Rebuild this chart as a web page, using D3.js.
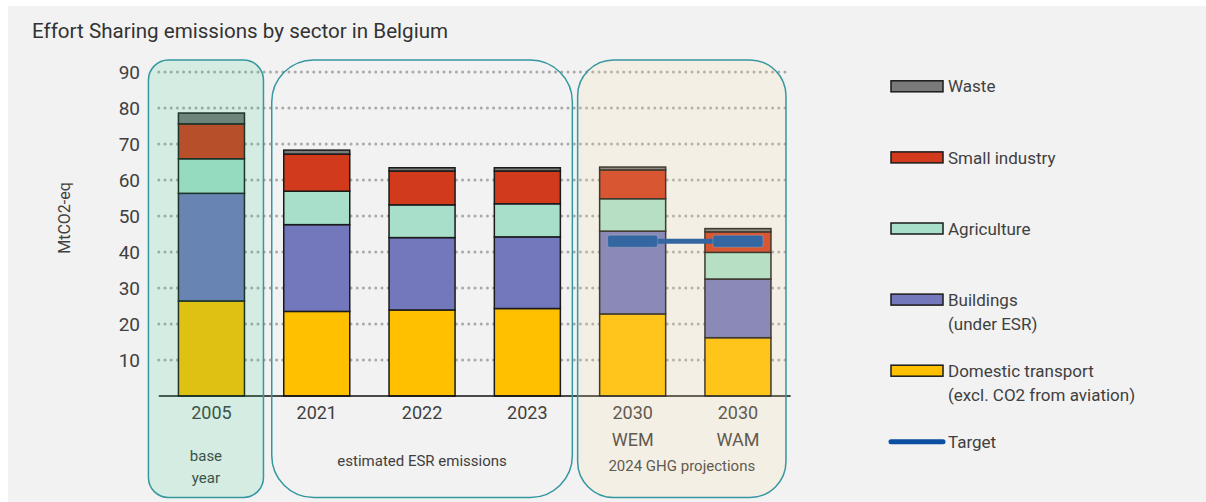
<!DOCTYPE html>
<html>
<head>
<meta charset="utf-8">
<script src="https://cdn.jsdelivr.net/npm/d3@7"></script>
<style>
  body { margin: 0; background: #fff; }
  svg { display: block; font-family: Roboto, "DejaVu Sans", sans-serif; }
</style>
</head>
<body>
<svg id="chart" width="1206" height="502"></svg>
<script>
// values (MtCO2-eq)
const categories = ["2005", "2021", "2022", "2023", "2030 WEM", "2030 WAM"];
const transport = [26.4, 23.5, 23.9, 24.3, 22.8, 16.2];
const buildings = [29.9, 24.1, 20.1, 19.9, 23.0, 16.3];
const agriculture = [9.6, 9.3, 9.1, 9.2, 9.0, 7.4];
const smallIndustry = [9.7, 10.3, 9.4, 9.1, 8.0, 5.7];
const waste = [3.0, 1.1, 0.9, 0.9, 0.8, 0.9];
const target = [null, null, null, null, 43.0, 43.0];
const yTicks = [10, 20, 30, 40, 50, 60, 70, 80, 90];

const seriesNames = ["Domestic transport", "Buildings", "Agriculture", "Small industry", "Waste"];
const groups = [
  {label: ["base", "year"], from: "2005", to: "2005"},
  {label: ["estimated ESR emissions"], from: "2021", to: "2023"},
  {label: ["2024 GHG projections"], from: "2030 WEM", to: "2030 WAM"}
];
const legendItems = [
  {key: "Waste", lines: ["Waste"]},
  {key: "Small industry", lines: ["Small industry"]},
  {key: "Agriculture", lines: ["Agriculture"]},
  {key: "Buildings", lines: ["Buildings", "(under ESR)"]},
  {key: "Domestic transport", lines: ["Domestic transport", "(excl. CO2 from aviation)"]},
  {key: "Target", lines: ["Target"]}
];

const table = categories.map((c, i) => ({
  cat: c,
  "Domestic transport": transport[i],
  "Buildings": buildings[i],
  "Agriculture": agriculture[i],
  "Small industry": smallIndustry[i],
  "Waste": waste[i]
}));

const color = d3.scaleOrdinal(seriesNames, ["#ffc000", "#7378bd", "#a8dfca", "#d13b1c", "#7a7a7a"]);
const textColor = "#404040";

const svg = d3.select("#chart");

svg.append("rect")
    .attr("x", 8).attr("y", 6)
    .attr("width", 1198).attr("height", 496)
    .attr("fill", "#f2f2f2");

const x = d3.scaleBand(categories, [158.8, 790.6]).paddingInner(0.373).paddingOuter(0.1865);
const y = d3.scaleLinear([0, 90], [396, 72]);
const cx = c => x(c) + x.bandwidth() / 2;

// title
svg.append("text")
    .attr("x", 32).attr("y", 38)
    .attr("font-size", 20.6)
    .attr("fill", "#333")
    .text("Effort Sharing emissions by sector in Belgium");

// dotted grid
svg.append("g")
  .selectAll("line")
  .data(yTicks)
  .join("line")
    .attr("x1", x.range()[0]).attr("x2", x.range()[1])
    .attr("y1", d => y(d)).attr("y2", d => y(d))
    .attr("stroke", "#a9a9a9")
    .attr("stroke-width", 3)
    .attr("stroke-linecap", "round")
    .attr("stroke-dasharray", "0,6.2");

// y tick labels
svg.append("g")
    .attr("font-size", 19)
    .attr("fill", textColor)
    .attr("text-anchor", "end")
  .selectAll("text")
  .data(yTicks)
  .join("text")
    .attr("x", 140)
    .attr("y", d => y(d))
    .attr("dy", "0.36em")
    .text(d => d);

svg.append("text")
    .attr("transform", "translate(70,218) rotate(-90)")
    .attr("text-anchor", "middle")
    .attr("font-size", 16)
    .attr("fill", textColor)
    .text("MtCO2-eq");

// stacked bars
const stacked = d3.stack().keys(seriesNames)(table);
svg.append("g")
  .selectAll("g")
  .data(stacked)
  .join("g")
    .attr("fill", d => color(d.key))
  .selectAll("rect")
  .data(d => d)
  .join("rect")
    .attr("x", d => x(d.data.cat))
    .attr("y", d => y(d[1]))
    .attr("width", x.bandwidth())
    .attr("height", d => y(d[0]) - y(d[1]))
    .attr("stroke", "#1a1a1a")
    .attr("stroke-width", 1.5);

// target
const tgt = categories.map((c, i) => ({cat: c, v: target[i]})).filter(d => d.v != null);
svg.append("path")
    .attr("d", d3.line().x(d => cx(d.cat)).y(d => y(d.v))(tgt))
    .attr("fill", "none")
    .attr("stroke", "#0b4ea2")
    .attr("stroke-width", 5);
svg.append("g")
  .selectAll("rect")
  .data(tgt)
  .join("rect")
    .attr("x", d => cx(d.cat) - 25)
    .attr("y", d => y(d.v) - 6)
    .attr("width", 50).attr("height", 12)
    .attr("rx", 2)
    .attr("fill", "#0b4ea2")
    .attr("stroke", "#d8e0ea")
    .attr("stroke-opacity", 0.25);

// baseline
svg.append("line")
    .attr("x1", x.range()[0]).attr("x2", x.range()[1])
    .attr("y1", y(0)).attr("y2", y(0))
    .attr("stroke", "#111")
    .attr("stroke-width", 1.5);

// category labels
svg.append("g")
    .attr("font-size", 18)
    .attr("fill", textColor)
    .attr("text-anchor", "middle")
  .selectAll("text")
  .data(categories)
  .join("text")
    .attr("x", d => cx(d))
    .attr("y", 413)
    .selectAll("tspan")
    .data(d => d.split(" "))
    .join("tspan")
      .attr("x", function() { return this.parentNode.getAttribute("x"); })
      .attr("dy", (d, i) => i === 0 ? "0.36em" : "1.45em")
      .text(d => d);

// group boxes
const boxPad = [[30, 19, 20, "#2ac77f", 0.15], [12, 12, 42, null, 0], [22, 15, 36, "#ffe0a0", 0.17]];
const boxes = groups.map((g, i) => ({
  ...g,
  x0: x(g.from) - boxPad[i][0],
  x1: x(g.to) + x.bandwidth() + boxPad[i][1],
  r: boxPad[i][2], tint: boxPad[i][3], alpha: boxPad[i][4]
}));

const labelY = [456, 461, 466];
boxes.forEach((b, i) => {
  svg.append("text")
      .attr("x", (b.x0 + b.x1) / 2)
      .attr("y", b.label.length > 1 ? labelY[0] : labelY[i])
      .attr("font-size", 15)
      .attr("fill", textColor)
      .attr("text-anchor", "middle")
    .selectAll("tspan")
    .data(b.label)
    .join("tspan")
      .attr("x", (b.x0 + b.x1) / 2)
      .attr("dy", (d, j) => j === 0 ? "0.36em" : "1.45em")
      .text(d => d);
});

svg.append("g")
  .selectAll("rect")
  .data(boxes)
  .join("rect")
    .attr("x", d => d.x0).attr("y", 60)
    .attr("width", d => d.x1 - d.x0).attr("height", 437.5)
    .attr("rx", d => d.r)
    .attr("fill", d => d.tint || "none")
    .attr("fill-opacity", d => d.alpha)
    .attr("stroke", "#3597a0")
    .attr("stroke-width", 1.5);

// legend
const legend = svg.append("g")
    .attr("font-size", 17)
    .attr("fill", textColor);
const item = legend.selectAll("g")
  .data(legendItems)
  .join("g")
    .attr("transform", (d, i) => `translate(891,${86.3 + i * 71.1})`);
item.filter(d => d.key !== "Target")
  .append("rect")
    .attr("x", 0).attr("y", -5.5)
    .attr("width", 52).attr("height", 11)
    .attr("fill", d => color(d.key))
    .attr("stroke", "#1a1a1a")
    .attr("stroke-width", 1.5);
item.filter(d => d.key === "Target")
  .append("line")
    .attr("x1", 0).attr("x2", 52)
    .attr("stroke", "#0b4ea2")
    .attr("stroke-width", 5)
    .attr("stroke-linecap", "round");
item.append("text")
    .attr("x", 57)
  .selectAll("tspan")
  .data(d => d.lines)
  .join("tspan")
    .attr("x", 57)
    .attr("dy", (d, j) => j === 0 ? "0.36em" : "1.4em")
    .text(d => d);
</script>
</body>
</html>
